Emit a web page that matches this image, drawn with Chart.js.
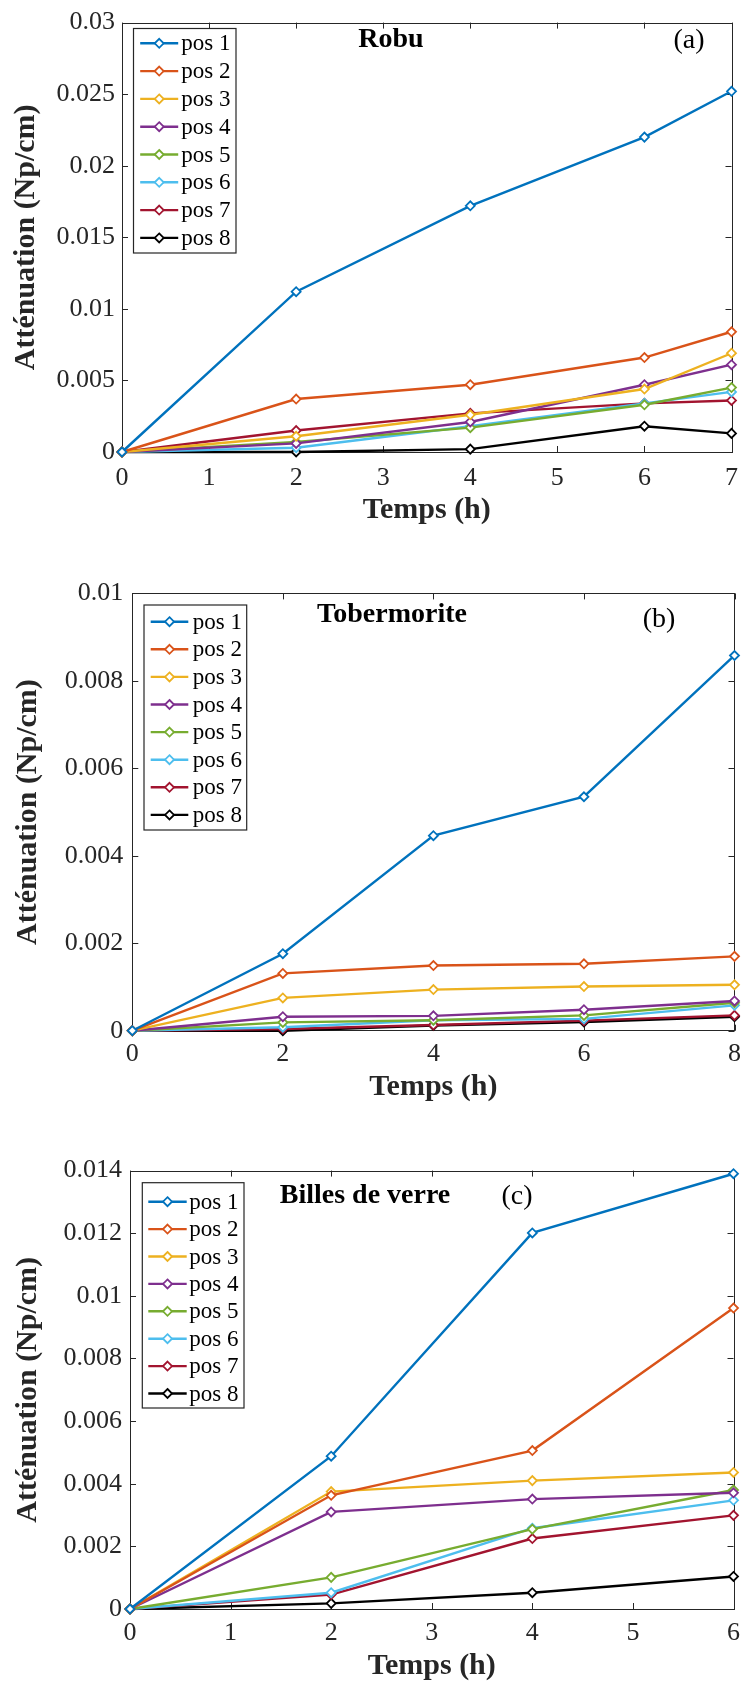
<!DOCTYPE html>
<html><head><meta charset="utf-8">
<script src="https://cdn.jsdelivr.net/npm/chart.js@4/dist/chart.umd.min.js"></script>
<style>
html,body{margin:0;padding:0;background:#fff;}
body{width:749px;height:1686px;position:relative;overflow:hidden;}
.panel{position:absolute;left:0;width:749px;}
canvas{display:block;}
</style></head><body>
<div class="panel" style="top:0px;height:540px"><canvas id="cA" width="749" height="540"></canvas></div>
<div class="panel" style="top:555px;height:560px"><canvas id="cB" width="749" height="560"></canvas></div>
<div class="panel" style="top:1125px;height:561px"><canvas id="cC" width="749" height="561"></canvas></div>
<script>
// ---------- shared ----------
const seriesLabels = ['pos 1','pos 2','pos 3','pos 4','pos 5','pos 6','pos 7','pos 8'];
const seriesColors = ['#0072BD','#D95319','#EDB120','#7E2F8E','#77AC30','#4DBEEE','#A2142F','#000000'];
const xTitle = 'Temps (h)';
const yTitle = 'Atténuation (Np/cm)';

// ---------- (a) Robu ----------
const timeA = [0, 2, 4, 6, 7];
const robuPos1 = [0, 0.0112, 0.0172, 0.0220, 0.0252];
const robuPos2 = [0, 0.0037, 0.0047, 0.0066, 0.0084];
const robuPos3 = [0, 0.0011, 0.0026, 0.0044, 0.0069];
const robuPos4 = [0, 0.0006, 0.0021, 0.0047, 0.0061];
const robuPos5 = [0, 0.0007, 0.0017, 0.0033, 0.0045];
const robuPos6 = [0, 0.0003, 0.0018, 0.0034, 0.0042];
const robuPos7 = [0, 0.0015, 0.0027, 0.0034, 0.0036];
const robuPos8 = [0, 0.0000, 0.0002, 0.0018, 0.0013];
const xTicksA = [0, 1, 2, 3, 4, 5, 6, 7];
const yTicksA = [0, 0.005, 0.01, 0.015, 0.02, 0.025, 0.03];
const yTickLabelsA = ['0', '0.005', '0.01', '0.015', '0.02', '0.025', '0.03'];

// ---------- (b) Tobermorite ----------
const timeB = [0, 2, 4, 6, 8];
const toberPos1 = [0, 0.00176, 0.00446, 0.00535, 0.00858];
const toberPos2 = [0, 0.00131, 0.00149, 0.00153, 0.00170];
const toberPos3 = [0, 0.00075, 0.00094, 0.00101, 0.00105];
const toberPos4 = [0, 0.00032, 0.00034, 0.00048, 0.00068];
const toberPos5 = [0, 0.00019, 0.00024, 0.00035, 0.00064];
const toberPos6 = [0, 0.00008, 0.00024, 0.00027, 0.00058];
const toberPos7 = [0, 0.00004, 0.00013, 0.00023, 0.00035];
const toberPos8 = [0, 0.00000, 0.00012, 0.00020, 0.00032];
const xTicksB = [0, 2, 4, 6, 8];
const yTicksB = [0, 0.002, 0.004, 0.006, 0.008, 0.01];
const yTickLabelsB = ['0', '0.002', '0.004', '0.006', '0.008', '0.01'];

// ---------- (c) Billes de verre ----------
const timeC = [0, 2, 4, 6];
const billesPos1 = [0, 0.00488, 0.01201, 0.0139];
const billesPos2 = [0, 0.00363, 0.00506, 0.00961];
const billesPos3 = [0, 0.00375, 0.00410, 0.00436];
const billesPos4 = [0, 0.00310, 0.00351, 0.00371];
const billesPos5 = [0, 0.00101, 0.00255, 0.00380];
const billesPos6 = [0, 0.00052, 0.00258, 0.00347];
const billesPos7 = [0, 0.00046, 0.00225, 0.00299];
const billesPos8 = [0, 0.00018, 0.00052, 0.00104];
const xTicksC = [0, 1, 2, 3, 4, 5, 6];
const yTicksC = [0, 0.002, 0.004, 0.006, 0.008, 0.01, 0.012, 0.014];
const yTickLabelsC = ['0', '0.002', '0.004', '0.006', '0.008', '0.01', '0.012', '0.014'];

const FONT = "'Liberation Serif', 'Times New Roman', serif";
const AX = '#262626';

function makeDatasets(time, series){
  return series.map((vals, i) => ({
    label: seriesLabels[i],
    data: vals.map((v, k) => ({x: time[k], y: v})),
    borderColor: seriesColors[i],
    backgroundColor: seriesColors[i],
    borderWidth: 2.4,
    tension: 0,
    pointStyle: 'rectRot',
    pointRadius: 4.5,
    pointHoverRadius: 4.5,
    pointBorderWidth: 1.8,
    pointBackgroundColor: '#ffffff',
    pointBorderColor: seriesColors[i],
    clip: false
  }));
}

const framePlugin = {
  id: 'frame',
  beforeDatasetsDraw(chart){
    const {ctx, chartArea: a, scales} = chart;
    ctx.save();
    ctx.strokeStyle = AX; ctx.lineWidth = 1;
    ctx.strokeRect(Math.round(a.left)+0.5, Math.round(a.top)+0.5, Math.round(a.right-a.left), Math.round(a.bottom-a.top));
    const L = 6;
    ctx.beginPath();
    scales.x.ticks.forEach(t => {
      const p = Math.round(scales.x.getPixelForValue(t.value)) + 0.5;
      ctx.moveTo(p, a.bottom); ctx.lineTo(p, a.bottom - L);
      ctx.moveTo(p, a.top); ctx.lineTo(p, a.top + L);
    });
    scales.y.ticks.forEach(t => {
      const p = Math.round(scales.y.getPixelForValue(t.value)) + 0.5;
      ctx.moveTo(a.left, p); ctx.lineTo(a.left + L, p);
      ctx.moveTo(a.right, p); ctx.lineTo(a.right - L, p);
    });
    ctx.stroke();
    ctx.restore();
  },
  afterDatasetsDraw(chart, args, o){
    const ctx = chart.ctx;
    ctx.save();
    // panel titles
    ctx.fillStyle = '#000';
    ctx.textAlign = 'center'; ctx.textBaseline = 'middle';
    ctx.font = 'bold 28px ' + FONT;
    ctx.fillText(o.title, o.titleX, o.titleY);
    ctx.font = '28px ' + FONT;
    ctx.fillText(o.tag, o.tagX, o.tagY);
    // legend
    const lg = o.legend;
    ctx.fillStyle = '#fff';
    ctx.fillRect(lg.left, lg.top, lg.right - lg.left, lg.bottom - lg.top);
    ctx.strokeStyle = AX; ctx.lineWidth = 1.2;
    ctx.strokeRect(lg.left, lg.top, lg.right - lg.left, lg.bottom - lg.top);
    ctx.font = '23px ' + FONT;
    ctx.textAlign = 'left'; ctx.textBaseline = 'middle';
    chart.data.datasets.forEach((ds, i) => {
      const y = lg.row0 + i * lg.step;
      const x0 = lg.left + lg.l0, x1 = lg.left + lg.l1, xm = (x0 + x1) / 2;
      ctx.strokeStyle = ds.borderColor; ctx.lineWidth = 2.4;
      ctx.beginPath(); ctx.moveTo(x0, y); ctx.lineTo(x1, y); ctx.stroke();
      const r = 4.5;
      ctx.beginPath();
      ctx.moveTo(xm, y - r); ctx.lineTo(xm + r, y); ctx.lineTo(xm, y + r); ctx.lineTo(xm - r, y); ctx.closePath();
      ctx.fillStyle = '#fff'; ctx.fill();
      ctx.lineWidth = 1.8; ctx.stroke();
      ctx.fillStyle = '#000';
      ctx.fillText(ds.label, lg.left + lg.tx, y + 1);
    });
    ctx.restore();
  }
};

function makeChart(id, p){
  return new Chart(document.getElementById(id), {
    type: 'line',
    data: { datasets: makeDatasets(p.time, p.series) },
    options: {
      responsive: false,
      animation: false,
      devicePixelRatio: 1,
      events: [],
      layout: { padding: { top: p.padTop, right: p.padRight, left: 0, bottom: 0 } },
      plugins: {
        legend: { display: false },
        tooltip: { enabled: false },
        frame: p.frame
      },
      scales: {
        x: {
          type: 'linear', min: p.xMin, max: p.xMax,
          afterBuildTicks: ax => { ax.ticks = p.xTicks.map(v => ({value: v})); },
          afterFit: ax => { ax.height = p.xAxisH; },
          grid: { display: false, drawTicks: false },
          border: { display: false },
          ticks: { autoSkip: false, maxRotation: 0, padding: p.xTickPad, color: AX,
                   font: { family: FONT, size: 26 }, callback: v => String(v) },
          title: { display: true, text: xTitle, color: AX,
                   font: { family: FONT, size: 30, weight: 'bold' }, padding: { top: 0, bottom: p.xTitlePad } }
        },
        y: {
          type: 'linear', min: p.yMin, max: p.yMax,
          afterBuildTicks: ax => { ax.ticks = p.yTicks.map(v => ({value: v})); },
          afterFit: ax => { ax.width = p.yAxisW; },
          grid: { display: false, drawTicks: false },
          border: { display: false },
          ticks: { autoSkip: false, padding: p.yTickPad, color: AX,
                   font: { family: FONT, size: 26 }, callback: (v, i) => p.yTickLabels[i] },
          title: { display: true, text: yTitle, color: AX,
                   font: { family: FONT, size: 30, weight: 'bold' }, padding: { top: p.yTitlePad, bottom: 0 } }
        }
      }
    },
    plugins: [framePlugin]
  });
}

makeChart('cA', {
  time: timeA,
  series: [robuPos1, robuPos2, robuPos3, robuPos4, robuPos5, robuPos6, robuPos7, robuPos8],
  xMin: 0, xMax: 7, yMin: 0, yMax: 0.03,
  xTicks: xTicksA, yTicks: yTicksA, yTickLabels: yTickLabelsA,
  padTop: 16, padRight: 7.5, xAxisH: 88, yAxisW: 122,
  xTickPad: 11, yTickPad: 7, xTitlePad: 12, yTitlePad: 8,
  frame: { title: 'Robu', titleX: 391, titleY: 40, tag: '(a)', tagX: 689, tagY: 41,
           legend: { left: 133.5, top: 28.5, right: 236, bottom: 253, row0: 43.3, step: 27.8, l0: 6.7, l1: 44.7, tx: 47.7 } }
});

makeChart('cB', {
  time: timeB,
  series: [toberPos1, toberPos2, toberPos3, toberPos4, toberPos5, toberPos6, toberPos7, toberPos8],
  xMin: 0, xMax: 8, yMin: 0, yMax: 0.01,
  xTicks: xTicksB, yTicks: yTicksB, yTickLabels: yTickLabelsB,
  padTop: 38.4, padRight: 10, xAxisH: 84.3, yAxisW: 132.3,
  xTickPad: 8, yTickPad: 9, xTitlePad: 10, yTitlePad: 10.7,
  frame: { title: 'Tobermorite', titleX: 392, titleY: 60, tag: '(b)', tagX: 659, tagY: 65,
           legend: { left: 144, top: 50, right: 246.7, bottom: 275, row0: 66.7, step: 27.6, l0: 6.7, l1: 44.3, tx: 48.7 } }
});

makeChart('cC', {
  time: timeC,
  series: [billesPos1, billesPos2, billesPos3, billesPos4, billesPos5, billesPos6, billesPos7, billesPos8],
  xMin: 0, xMax: 6, yMin: 0, yMax: 0.014,
  xTicks: xTicksC, yTicks: yTicksC, yTickLabels: yTickLabelsC,
  padTop: 45.6, padRight: 10, xAxisH: 77, yAxisW: 130,
  xTickPad: 9, yTickPad: 8, xTitlePad: 2.2, yTitlePad: 10.7,
  frame: { title: 'Billes de verre', titleX: 365, titleY: 71, tag: '(c)', tagX: 517, tagY: 72,
           legend: { left: 142.3, top: 57.7, right: 244, bottom: 283, row0: 76.7, step: 27.4, l0: 6, l1: 44.4, tx: 47 } }
});
</script>
</body></html>
